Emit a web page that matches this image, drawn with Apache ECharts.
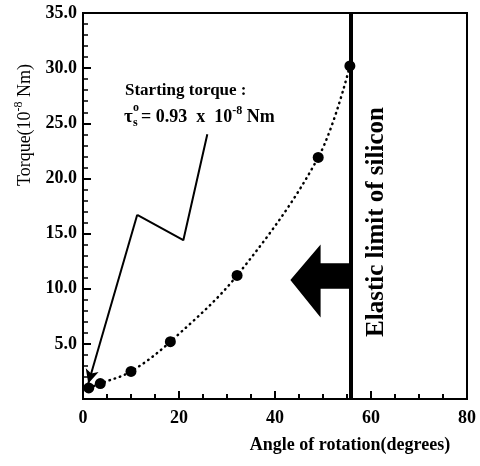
<!DOCTYPE html>
<html>
<head>
<meta charset="utf-8">
<script src="https://cdn.jsdelivr.net/npm/echarts@6/dist/echarts.min.js"></script>
<style>html,body{margin:0;padding:0;background:#fff}#c{width:480px;height:466px}</style>
</head>
<body>
<div id="c"></div>
<script>
// Data
const angle = [1.2, 3.6, 10.0, 18.2, 32.1, 49.0, 55.6];
const torque = [1.0, 1.4, 2.5, 5.2, 11.2, 21.9, 30.2];
const elasticLimit = 55.7;
// annotation leader line (data coords)
const annotPath = [[25.9, 24.0], [20.9, 14.4], [11.3, 16.7], [1.1, 1.4]];
// big left arrow polygon (data coords)
const arrowPoly = [[43.2, 10.8], [49.5, 14.0], [49.5, 12.3], [55.7, 12.3], [55.7, 10.0], [49.5, 10.0], [49.5, 7.4]];
const xTicks = [0, 20, 40, 60, 80];
const yTicks = [0, 5, 10, 15, 20, 25, 30, 35];

const serif = '"Liberation Serif", "DejaVu Serif", serif';
const chart = echarts.init(document.getElementById('c'), null, {renderer: 'canvas'});
const points = angle.map((a, i) => [a, torque[i]]);

chart.setOption({
  animation: false,
  backgroundColor: '#fff',
  grid: {left: 83, right: 13, top: 13, bottom: 67, show: true, borderColor: '#000', borderWidth: 2},
  xAxis: {
    type: 'value', min: xTicks[0], max: xTicks[xTicks.length - 1], interval: 20,
    axisLine: {lineStyle: {color: '#000', width: 2}},
    axisTick: {inside: true, length: 8, lineStyle: {color: '#000', width: 2}},
    minorTick: {show: true, splitNumber: 4, length: 5, lineStyle: {color: '#000', width: 2}},
    splitLine: {show: false},
    axisLabel: {color: '#000', fontFamily: serif, fontWeight: 'bold', fontSize: 18, margin: 10}
  },
  yAxis: {
    type: 'value', min: yTicks[0], max: yTicks[yTicks.length - 1], interval: 5,
    axisLine: {lineStyle: {color: '#000', width: 2}},
    axisTick: {inside: true, length: 8, lineStyle: {color: '#000', width: 2}},
    minorTick: {show: true, splitNumber: 5, length: 5, lineStyle: {color: '#000', width: 1.5}},
    splitLine: {show: false},
    axisLabel: {color: '#000', fontFamily: serif, fontWeight: 'bold', fontSize: 18, margin: 6,
      formatter: v => v === 0 ? '' : v.toFixed(1)}
  },
  series: [
    {
      type: 'line', data: points, smooth: 0.35, symbol: 'circle', symbolSize: 11,
      itemStyle: {color: '#000'},
      lineStyle: {color: '#000', width: 2.5, type: [0.5, 5], cap: 'round'},
      markLine: {
        silent: true, symbol: 'none', label: {show: false},
        lineStyle: {color: '#000', width: 4, type: 'solid'},
        data: [{xAxis: elasticLimit}]
      },
      z: 3
    },
    {
      type: 'line', data: annotPath.slice(0, annotPath.length - 1), symbol: 'none', smooth: false,
      lineStyle: {color: '#000', width: 2},
      markLine: {
        silent: true, symbol: ['none', 'arrow'], symbolSize: [10, 14], label: {show: false},
        lineStyle: {color: '#000', width: 2, type: 'solid'},
        data: [[{coord: annotPath[annotPath.length - 2]}, {coord: annotPath[annotPath.length - 1]}]]
      },
      z: 2
    },
    {
      type: 'custom', silent: true, data: [[0, 0]],
      renderItem: (params, api) => ({
        type: 'polygon',
        shape: {points: arrowPoly.map(p => api.coord(p))},
        style: {fill: '#000'}
      }),
      z: 2
    }
  ],
  graphic: [
    {type: 'text', x: 350, y: 445, style: {text: 'Angle of rotation(degrees)', fill: '#000',
      font: 'bold 18px ' + serif, align: 'center', verticalAlign: 'middle'}},
    {type: 'text', x: 25, y: 125, rotation: Math.PI / 2, style: {
      text: '{a|Torque(10}{s|-8}{a| Nm)}', align: 'center', verticalAlign: 'middle',
      rich: {
        a: {fontFamily: serif, fontSize: 18, fill: '#000', lineHeight: 24},
        s: {fontFamily: serif, fontSize: 12, fill: '#000', verticalAlign: 'top', lineHeight: 12}
      }}},
    {type: 'text', x: 377, y: 222, rotation: Math.PI / 2, style: {text: 'Elastic limit of silicon', fill: '#000',
      font: 'bold 25px ' + serif, align: 'center', verticalAlign: 'middle'}},
    {type: 'text', x: 125, y: 91, style: {text: 'Starting torque :', fill: '#000',
      font: 'bold 17px ' + serif, align: 'left', verticalAlign: 'middle'}},
    {type: 'text', x: 124, y: 117, style: {text: 'τ', fill: '#000',
      font: 'bold 19px ' + serif, align: 'left', verticalAlign: 'middle'}},
    {type: 'text', x: 133, y: 108, style: {text: 'o', fill: '#000',
      font: 'bold 12px ' + serif, align: 'left', verticalAlign: 'middle'}},
    {type: 'text', x: 133, y: 123, style: {text: 's', fill: '#000',
      font: 'bold 12px ' + serif, align: 'left', verticalAlign: 'middle'}},
    {type: 'text', x: 141, y: 117, style: {
      text: '{a|= 0.93  x  10}{s|-8}{a| Nm}', align: 'left', verticalAlign: 'middle',
      rich: {
        a: {fontFamily: serif, fontWeight: 'bold', fontSize: 18, fill: '#000', lineHeight: 24},
        s: {fontFamily: serif, fontWeight: 'bold', fontSize: 12, fill: '#000', verticalAlign: 'top', lineHeight: 12}
      }}}
  ]
});
</script>
</body>
</html>
